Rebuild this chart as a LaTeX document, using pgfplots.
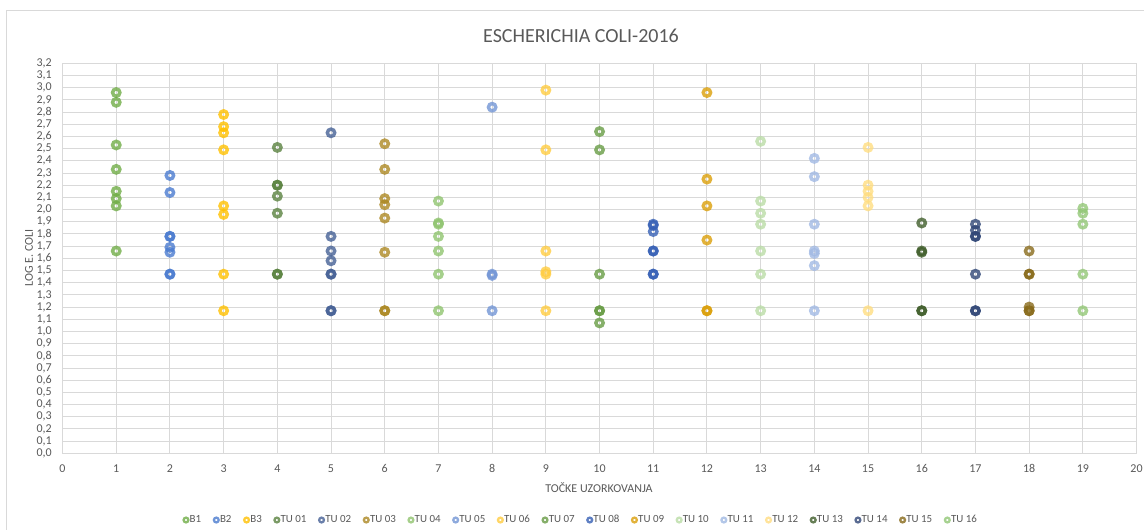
\documentclass[border=0pt]{standalone}
\usepackage{fontspec}
\setmainfont{Carlito}
\usepackage{pgfplots}
\pgfplotsset{compat=1.18}
\definecolor{cText}{HTML}{595959}
\definecolor{cGrid}{HTML}{D9D9D9}
\definecolor{cBorder}{HTML}{D9D9D9}
\definecolor{cB1}{HTML}{70AD47}
\definecolor{cB2}{HTML}{4A7BCF}
\definecolor{cB3}{HTML}{FFC000}
\definecolor{cT01}{HTML}{5A8240}
\definecolor{cT02}{HTML}{456095}
\definecolor{cT03}{HTML}{AC8823}
\definecolor{cT04}{HTML}{90C46F}
\definecolor{cT05}{HTML}{7295D5}
\definecolor{cT06}{HTML}{FFCC40}
\definecolor{cT07}{HTML}{689C45}
\definecolor{cT08}{HTML}{3660B5}
\definecolor{cT09}{HTML}{DB9F09}
\definecolor{cT10}{HTML}{BADCA6}
\definecolor{cT11}{HTML}{A1B9E3}
\definecolor{cT12}{HTML}{FFDD81}
\definecolor{cT13}{HTML}{405E2B}
\definecolor{cT14}{HTML}{314777}
\definecolor{cT15}{HTML}{886A1A}
\definecolor{cT16}{HTML}{92C776}
\begin{document}
\begin{tikzpicture}
\path[use as bounding box] (0,0) rectangle (858pt,397.5pt);
\draw[color=cBorder, line width=0.75pt] (5pt,-10pt) rectangle (880pt,389.6pt);
\node[font=\fontsize{15}{18}\selectfont, text=cText] at (435.75pt,370.5pt) {ESCHERICHIA COLI-2016};
\node[font=\fontsize{9}{11}\selectfont, text=cText] at (449.25pt,31.5pt) {TOČKE UZORKOVANJA};
\node[font=\fontsize{9}{11}\selectfont, text=cText, rotate=90] at (21.75pt,204pt) {LOG E. COLI};
\begin{axis}[
  at={(46.9pt,57.5pt)}, anchor=south west,
  scale only axis, width=805.5pt, height=292.5pt,
  xmin=0, xmax=20, ymin=0, ymax=3.2,
  xtick={0,1,...,20},
  ytick={0,0.1,0.2,0.3,0.4,0.5,0.6,0.7,0.8,0.9,1.0,1.1,1.2,1.3,1.4,1.5,1.6,1.7,1.8,1.9,2.0,2.1,2.2,2.3,2.4,2.5,2.6,2.7,2.8,2.9,3.0,3.1,3.2},
  /pgf/number format/assume math mode=true,
  grid=major, major grid style={color=cGrid, line width=0.75pt},
  axis line style={color=cGrid, line width=0.75pt},
  major tick length=0pt,
  tick label style={font=\fontsize{9}{11}\selectfont, text=cText},
  xticklabel style={yshift=-5pt},
  yticklabel style={xshift=-4.5pt, /pgf/number format/.cd, fixed, fixed zerofill, precision=1, use comma},
  every axis plot/.append style={only marks, mark=o, mark size=2.75pt, mark options={line width=2.6pt, draw opacity=0.8}},
  legend columns=19,
  legend style={draw=none, at={(0.4827,-0.171)}, anchor=center, font=\fontsize{8.2}{10}\selectfont, text=cText,
    nodes={inner sep=1pt},
    /tikz/every even column/.append style={column sep=8.5pt}},
  legend image code/.code={\draw[#1, mark size=1.8pt, mark options={line width=1.7pt, draw opacity=0.8}] plot coordinates {(0pt,0pt)};},
]
\addplot[color=cB1] coordinates {(1,2.96) (1,2.88) (1,2.53) (1,2.33) (1,2.15) (1,2.09) (1,2.03) (1,1.66)};
\addlegendentry{B1}
\addplot[color=cB2] coordinates {(2,2.28) (2,2.14) (2,1.78) (2,1.78) (2,1.69) (2,1.65) (2,1.47) (2,1.47)};
\addlegendentry{B2}
\addplot[color=cB3] coordinates {(3,2.78) (3,2.68) (3,2.63) (3,2.49) (3,2.03) (3,1.96) (3,1.47) (3,1.17)};
\addlegendentry{B3}
\addplot[color=cT01] coordinates {(4,2.51) (4,2.20) (4,2.20) (4,2.11) (4,1.97) (4,1.47) (4,1.47)};
\addlegendentry{TU 01}
\addplot[color=cT02] coordinates {(5,2.63) (5,1.78) (5,1.66) (5,1.58) (5,1.47) (5,1.47) (5,1.17) (5,1.17)};
\addlegendentry{TU 02}
\addplot[color=cT03] coordinates {(6,2.54) (6,2.33) (6,2.09) (6,2.04) (6,1.93) (6,1.65) (6,1.17) (6,1.17)};
\addlegendentry{TU 03}
\addplot[color=cT04] coordinates {(7,2.07) (7,1.89) (7,1.88) (7,1.78) (7,1.66) (7,1.47) (7,1.17)};
\addlegendentry{TU 04}
\addplot[color=cT05] coordinates {(8,2.84) (8,1.47) (8,1.46) (8,1.17)};
\addlegendentry{TU 05}
\addplot[color=cT06] coordinates {(9,2.98) (9,2.49) (9,1.66) (9,1.49) (9,1.47) (9,1.17)};
\addlegendentry{TU 06}
\addplot[color=cT07] coordinates {(10,2.64) (10,2.49) (10,1.47) (10,1.17) (10,1.17) (10,1.07)};
\addlegendentry{TU 07}
\addplot[color=cT08] coordinates {(11,1.88) (11,1.87) (11,1.82) (11,1.66) (11,1.66) (11,1.47) (11,1.47)};
\addlegendentry{TU 08}
\addplot[color=cT09] coordinates {(12,2.96) (12,2.25) (12,2.03) (12,1.75) (12,1.17) (12,1.17)};
\addlegendentry{TU 09}
\addplot[color=cT10] coordinates {(13,2.56) (13,2.07) (13,1.97) (13,1.88) (13,1.66) (13,1.47) (13,1.17)};
\addlegendentry{TU 10}
\addplot[color=cT11] coordinates {(14,2.42) (14,2.27) (14,1.88) (14,1.66) (14,1.64) (14,1.54) (14,1.17)};
\addlegendentry{TU 11}
\addplot[color=cT12] coordinates {(15,2.51) (15,2.20) (15,2.15) (15,2.10) (15,2.03) (15,1.17)};
\addlegendentry{TU 12}
\addplot[color=cT13] coordinates {(16,1.89) (16,1.66) (16,1.65) (16,1.17) (16,1.17)};
\addlegendentry{TU 13}
\addplot[color=cT14] coordinates {(17,1.88) (17,1.83) (17,1.78) (17,1.78) (17,1.47) (17,1.17) (17,1.17)};
\addlegendentry{TU 14}
\addplot[color=cT15] coordinates {(18,1.66) (18,1.47) (18,1.47) (18,1.20) (18,1.17) (18,1.17)};
\addlegendentry{TU 15}
\addplot[color=cT16] coordinates {(19,2.01) (19,1.97) (19,1.88) (19,1.47) (19,1.17)};
\addlegendentry{TU 16}
\end{axis}
\end{tikzpicture}
\end{document}
